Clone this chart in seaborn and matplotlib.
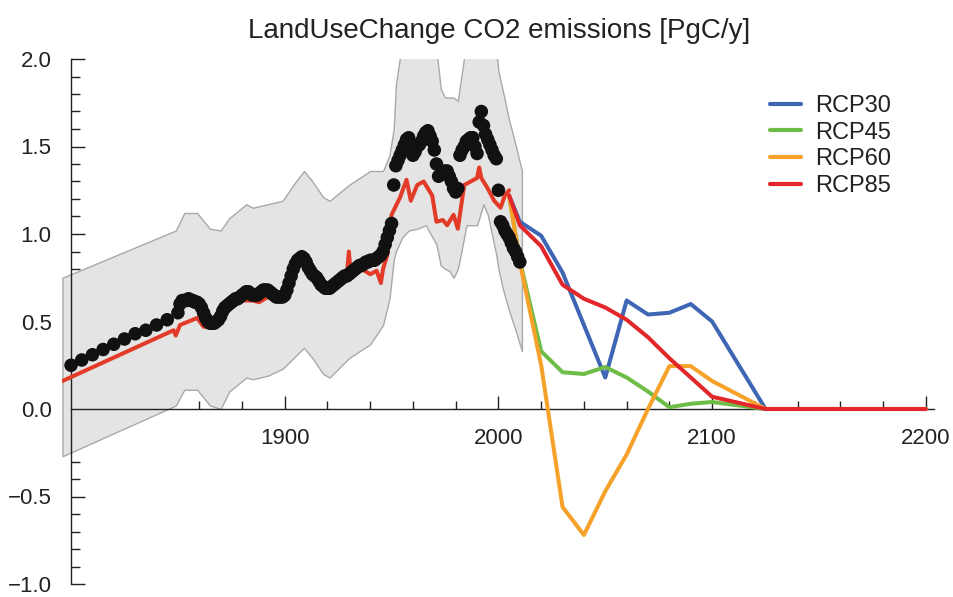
import numpy as np
import pandas as pd
import matplotlib
matplotlib.use("Agg")
import matplotlib.pyplot as plt
import seaborn as sns
from matplotlib.lines import Line2D
from matplotlib.ticker import MultipleLocator

# ---------------- data ----------------
title = "LandUseChange CO2 emissions [PgC/y]"

# observed (black dots): 5-yearly 1800-1845, then annual 1850-2010
obs_years_early = [1800, 1805, 1810, 1815, 1820, 1825, 1830, 1835, 1840, 1845]
obs_vals_early = [0.25, 0.28, 0.31, 0.34, 0.37, 0.40, 0.43, 0.45, 0.48, 0.51]
obs_start_late = 1850
obs_vals_late = [
    0.55, 0.60, 0.62, 0.62, 0.62, 0.63, 0.62, 0.62, 0.61, 0.61,   # 1850-1859
    0.60, 0.58, 0.55, 0.52, 0.50, 0.49, 0.49, 0.49, 0.50, 0.51,   # 1860-1869
    0.53, 0.56, 0.58, 0.59, 0.60, 0.61, 0.62, 0.63, 0.63, 0.64,   # 1870-1879
    0.65, 0.66, 0.67, 0.67, 0.66, 0.65, 0.65, 0.65, 0.66, 0.67,   # 1880-1889
    0.68, 0.68, 0.68, 0.67, 0.66, 0.65, 0.64, 0.64, 0.64, 0.64,   # 1890-1899
    0.65, 0.68, 0.72, 0.76, 0.80, 0.83, 0.85, 0.86, 0.87, 0.86,   # 1900-1909
    0.84, 0.81, 0.79, 0.77, 0.76, 0.75, 0.73, 0.71, 0.70, 0.69,   # 1910-1919
    0.69, 0.69, 0.70, 0.71, 0.72, 0.73, 0.74, 0.75, 0.76, 0.76,   # 1920-1929
    0.77, 0.78, 0.79, 0.80, 0.81, 0.82, 0.82, 0.83, 0.84, 0.84,   # 1930-1939
    0.85, 0.85, 0.85, 0.86, 0.87, 0.88, 0.90, 0.94, 0.98, 1.02,   # 1940-1949
    1.06, 1.28, 1.39, 1.42, 1.45, 1.48, 1.51, 1.54, 1.55, 1.50,   # 1950-1959
    1.45, 1.47, 1.50, 1.51, 1.53, 1.56, 1.58, 1.59, 1.56, 1.53,   # 1960-1969
    1.48, 1.40, 1.33, 1.34, 1.35, 1.36, 1.36, 1.33, 1.30, 1.26,   # 1970-1979
    1.24, 1.26, 1.45, 1.48, 1.50, 1.53, 1.54, 1.55, 1.55, 1.50,   # 1980-1989
    1.46, 1.64, 1.70, 1.62, 1.57, 1.54, 1.51, 1.48, 1.45, 1.43,   # 1990-1999
    1.25, 1.07, 1.05, 1.02, 1.00, 0.98, 0.95, 0.92, 0.90, 0.87,   # 2000-2009
    0.84,                                                         # 2010
]

# historical emissions used by the RCPs (red line)
hist_years = [1796, 1848, 1849, 1851, 1855, 1859, 1862, 1866, 1870, 1875,
              1880, 1885, 1888, 1892, 1896, 1900, 1905, 1908, 1912, 1916,
              1920, 1925, 1929, 1930, 1931, 1936, 1940, 1943, 1945, 1946,
              1948, 1950, 1954, 1957, 1959, 1962, 1965, 1969, 1971, 1974,
              1976, 1979, 1981, 1984, 1987, 1990, 1991, 1992, 1995, 1998,
              2001, 2003, 2005]
hist_vals = [0.16, 0.45, 0.42, 0.48, 0.50, 0.52, 0.47, 0.47, 0.51, 0.58,
             0.62, 0.62, 0.61, 0.64, 0.62, 0.64, 0.80, 0.85, 0.78, 0.71,
             0.68, 0.71, 0.75, 0.90, 0.76, 0.80, 0.77, 0.79, 0.72, 0.80,
             0.88, 1.11, 1.21, 1.31, 1.19, 1.28, 1.30, 1.22, 1.07, 1.08,
             1.05, 1.11, 1.03, 1.28, 1.30, 1.32, 1.38, 1.32, 1.26, 1.19,
             1.15, 1.22, 1.25]

# uncertainty band
band_years = [1796, 1849, 1853, 1859, 1865, 1870, 1874, 1882, 1885, 1892,
              1899, 1904, 1909, 1913, 1918, 1921, 1930, 1940, 1946, 1949,
              1951, 1952, 1955, 1958, 1962, 1966, 1971, 1973, 1975, 1977,
              1979, 1981, 1983, 1985, 1990, 1993, 1995, 1999, 2000, 2002,
              2005, 2008, 2011]
band_low = [-0.27, 0.02, 0.11, 0.11, 0.02, 0.00, 0.10, 0.18, 0.17, 0.19,
            0.23, 0.29, 0.35, 0.29, 0.20, 0.18, 0.29, 0.37, 0.48, 0.63,
            0.85, 0.90, 0.98, 1.02, 1.03, 1.05, 0.94, 0.82, 0.80, 0.79,
            0.75, 0.80, 0.92, 1.05, 1.05, 1.17, 1.11, 0.88, 0.80, 0.69,
            0.56, 0.45, 0.33]
band_high = [0.75, 1.02, 1.12, 1.12, 1.03, 1.02, 1.09, 1.17, 1.15, 1.17,
             1.19, 1.28, 1.36, 1.30, 1.21, 1.19, 1.28, 1.36, 1.36, 1.45,
             1.60, 1.85, 2.10, 2.15, 2.10, 2.10, 2.05, 1.83, 1.78, 1.78,
             1.78, 1.76, 1.93, 2.10, 2.10, 2.10, 2.10, 2.05, 1.93, 1.82,
             1.65, 1.51, 1.36]

# RCP scenarios
rcp_years = [2005, 2010, 2020, 2030, 2040, 2050, 2060, 2070, 2080, 2090,
             2100, 2125, 2150, 2200]
rcp30 = [1.22, 1.07, 0.99, 0.78, 0.48, 0.18, 0.62, 0.54, 0.55, 0.60,
         0.50, 0.00, 0.00, 0.00]
rcp45 = [1.22, 0.85, 0.33, 0.21, 0.20, 0.24, 0.18, 0.10, 0.01, 0.03,
         0.04, 0.00, 0.00, 0.00]
rcp60 = [1.22, 0.84, 0.25, -0.56, -0.72, -0.47, -0.26, 0.00, 0.245, 0.245,
         0.16, 0.00, 0.00, 0.00]
rcp85 = [1.22, 1.05, 0.93, 0.71, 0.63, 0.58, 0.51, 0.41, 0.29, 0.18,
         0.07, 0.00, 0.00, 0.00]
rcp_names = ["RCP30", "RCP45", "RCP60", "RCP85"]

colors = {"RCP30": "#3f66b4", "RCP45": "#6dbd46", "RCP60": "#f6a22a",
          "RCP85": "#e2262a"}

# ---------------- figure ----------------
sns.set_style("white")
plt.rcParams["font.family"] = ["Liberation Sans", "DejaVu Sans"]

fig = plt.figure(figsize=(9.54, 5.97), dpi=100)
# axes: x 1796..2205 -> px 62.5..936.5 ; y -1..2 -> px 584..59
ax = fig.add_axes([62.5 / 954, (597 - 584) / 597, 874 / 954, 525 / 597])

# band
ax.fill_between(band_years, band_low, band_high, color="#e4e4e4",
                edgecolor="#a9a9a9", linewidth=1.0, zorder=1)

# scenario lines
rcp_df = pd.DataFrame({
    "year": rcp_years * 4,
    "value": rcp30 + rcp45 + rcp60 + rcp85,
    "scenario": sum([[n] * len(rcp_years) for n in rcp_names], []),
})
for name in rcp_names:
    sub = rcp_df[rcp_df["scenario"] == name]
    sns.lineplot(data=sub, x="year", y="value", color=colors[name],
                 linewidth=2.9, ax=ax, sort=False, legend=False, zorder=3)

# historical red
hist_df = pd.DataFrame({"year": hist_years, "value": hist_vals})
sns.lineplot(data=hist_df, x="year", y="value", color="#e23b28",
             linewidth=2.9, ax=ax, sort=False, legend=False, zorder=4)

# observed dots
obs_years = obs_years_early + list(range(obs_start_late,
                                         obs_start_late + len(obs_vals_late)))
obs_df = pd.DataFrame({"year": obs_years,
                       "value": obs_vals_early + obs_vals_late})
sns.scatterplot(data=obs_df, x="year", y="value", color="#111111", s=95,
                edgecolor="none", ax=ax, zorder=5, legend=False)

# axes styling (Mathematica-like)
ax.set_xlim(1796, 2205)
ax.set_ylim(-1.0, 2.0)
ax.set_xlabel("")
ax.set_ylabel("")
for s in ["top", "right"]:
    ax.spines[s].set_visible(False)
ax.spines["left"].set_position(("data", 1800))
ax.spines["bottom"].set_position(("data", 0))
ax.spines["left"].set_bounds(-1.0, 2.0)
ax.spines["bottom"].set_bounds(1800, 2204)
for s in ["left", "bottom"]:
    ax.spines[s].set_color("#222222")
    ax.spines[s].set_linewidth(1.0)
    ax.spines[s].set_zorder(2)

ax.set_xticks([1900, 2000, 2100, 2200])
ax.xaxis.set_minor_locator(MultipleLocator(20))
ax.set_yticks([-1.0, -0.5, 0.0, 0.5, 1.0, 1.5, 2.0])
ax.set_yticklabels(["\u22121.0", "\u22120.5", "0.0", "0.5", "1.0", "1.5", "2.0"])
ax.yaxis.set_minor_locator(MultipleLocator(0.1))
ax.tick_params(axis="x", which="major", direction="in", length=9.4, width=1,
               color="#222222", pad=14, labelsize=16, labelcolor="#222222")
ax.tick_params(axis="x", which="minor", direction="in", length=5.8, width=1,
               color="#222222")
ax.tick_params(axis="y", which="major", direction="in", length=10, width=1,
               color="#222222", pad=14, labelsize=16, labelcolor="#222222")
ax.tick_params(axis="y", which="minor", direction="in", length=6.5, width=1,
               color="#222222")
ax.tick_params(bottom=True, left=True, which="both")

# legend
handles = [Line2D([0], [0], color=colors[n], linewidth=3) for n in rcp_names]
leg = ax.legend(handles, rcp_names, loc="upper left",
                bbox_to_anchor=(770 / 954, 1 - 95 / 597),
                bbox_transform=fig.transFigure, frameon=False, fontsize=17,
                handlelength=1.3, handletextpad=0.62, labelspacing=0.2,
                borderaxespad=0, borderpad=0)
for t in leg.get_texts():
    t.set_color("#222222")

fig.text(499 / 954, 1 - 31 / 597, title, ha="center", va="center",
         fontsize=20, color="#222222")

fig.savefig("out.png", dpi=100)
